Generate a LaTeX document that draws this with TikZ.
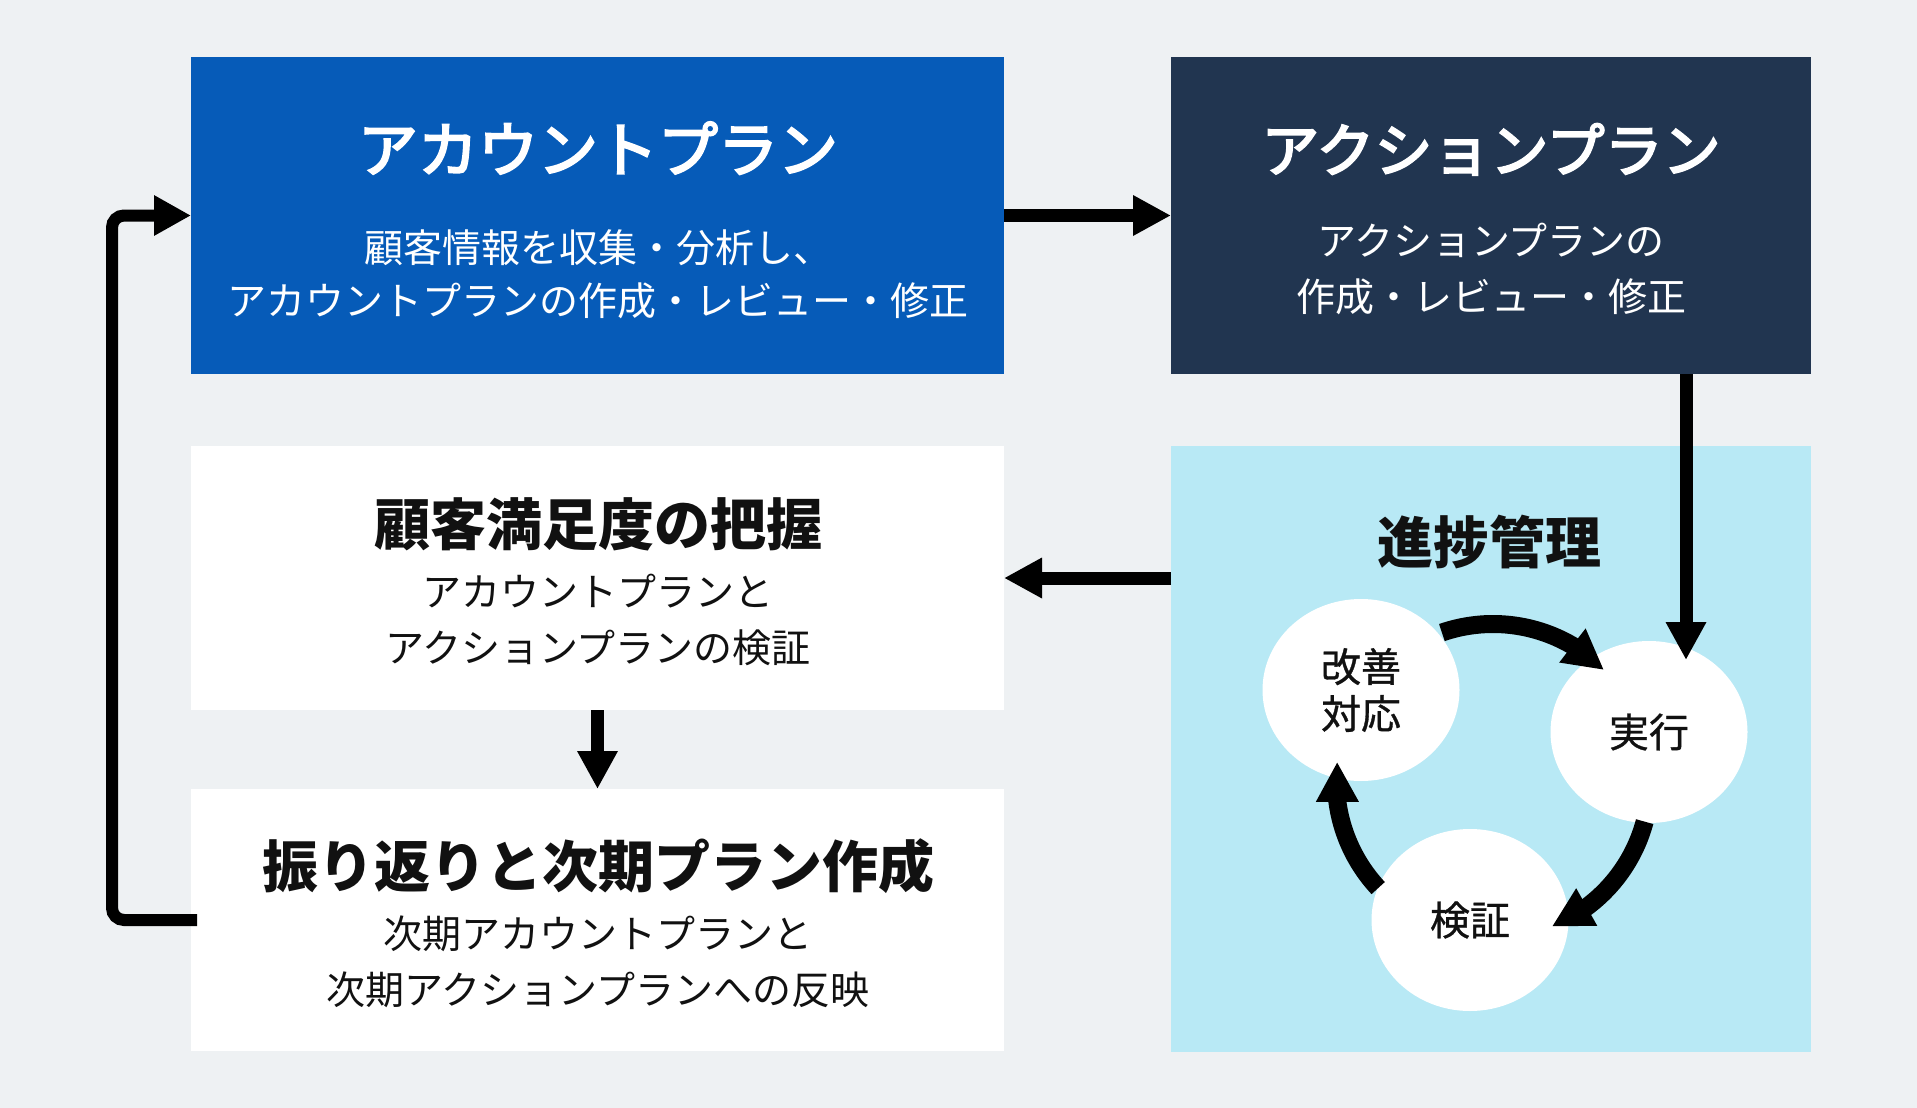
\documentclass[tikz,border=0pt]{standalone}
\usepackage{fontspec}
\newfontfamily\jp{Noto Sans CJK JP}
\newfontfamily\jpm[FakeBold=0.8]{Noto Sans CJK JP}
\newfontfamily\jph[FakeBold=3.5]{Noto Sans CJK JP}
\usetikzlibrary{arrows.meta,shapes.geometric,bending,calc}
\definecolor{bgc}{RGB}{238,241,243}
\definecolor{acctblue}{RGB}{6,91,184}
\definecolor{navy}{RGB}{33,53,80}
\definecolor{cyanbg}{RGB}{184,233,245}
\definecolor{ink}{RGB}{17,17,17}
\tikzset{
  panel/.style={draw=none,anchor=north west,inner sep=0pt,outer sep=0pt},
  bigttl/.style={font={\jph\fontsize{60}{66}\selectfont},inner sep=0pt,text height=50.4pt,text depth=4.8pt},
  ttl/.style={font={\jp\bfseries\fontsize{56}{62}\selectfont},inner sep=0pt,text height=47pt,text depth=4.5pt,text=ink},
  body/.style={font={\jp\fontsize{39}{47}\selectfont},inner sep=0pt,text height=32.8pt,text depth=3.1pt},
  bubble/.style={ellipse,fill=white,draw=none,minimum width=197pt,minimum height=182pt,inner sep=0pt,align=center,text=ink,font={\jpm\fontsize{40}{47}\selectfont}},
  flow/.style={line width=13pt,-{Triangle[length=38pt,width=38pt]}},
  loopback/.style={line width=12pt,rounded corners=12pt,-{Triangle[length=37pt,width=38pt]}},
  cyc/.style={line width=18pt,-{Triangle[length=40pt,width=40pt,flex]}}
}
\begin{document}
\begin{tikzpicture}[x=1pt,y=-1pt]
\fill[bgc] (0,0) rectangle (1917,1108);
\useasboundingbox (0,0) rectangle (1917,1108);
% panels
\node[panel,fill=acctblue,minimum width=813pt,minimum height=317pt] (acct) at (191,57) {};
\node[panel,fill=navy,minimum width=640pt,minimum height=317pt] (act) at (1171,57) {};
\node[panel,fill=white,minimum width=813pt,minimum height=264pt] (sat) at (191,446) {};
\node[panel,fill=white,minimum width=813pt,minimum height=262pt] (rev) at (191,789) {};
\node[panel,fill=cyanbg,minimum width=640pt,minimum height=606pt] (prog) at (1171,446) {};
% texts
\node[bigttl,text=white] (acctT) at (598,149) {アカウントプラン};
\node[body,text=white] (acctA) at (598,248) {顧客情報を収集・分析し、};
\node[body,text=white] (acctB) at (598,301) {アカウントプランの作成・レビュー・修正};
\node[bigttl,text=white,font={\jph\fontsize{58}{64}\selectfont}] (actT) at (1491,149) {アクションプラン};
\node[body,text=white] (actA) at (1491,241) {アクションプランの};
\node[body,text=white] (actB) at (1491,297) {作成・レビュー・修正};
\node[ttl] (satT) at (598,524) {顧客満足度の把握};
\node[body,text=ink] (satA) at (598,592) {アカウントプランと};
\node[body,text=ink] (satB) at (598,648) {アクションプランの検証};
\node[ttl] (revT) at (598,866) {振り返りと次期プラン作成};
\node[body,text=ink] (revA) at (598,934) {次期アカウントプランと};
\node[body,text=ink] (revB) at (598,990) {次期アクションプランへの反映};
\node[ttl] (progT) at (1489,542) {進捗管理};
% cycle
\node[bubble] (kaizen) at (1361,690) {改善\\対応};
\node[bubble] (jikko) at (1649,732) {実行};
\node[bubble] (kensho) at (1470,920) {検証};
\coordinate (cc) at (1493,781);
\draw[cyc] ($(cc)+(-109:157)$) arc[start angle=-109,end angle=-45,radius=157];
\draw[cyc] ($(cc)+(15:157)$) arc[start angle=15,end angle=68,radius=157];
\draw[cyc] ($(cc)+(137:157)$) arc[start angle=137,end angle=187,radius=157];
% flows
\coordinate (jtop) at (1686,660);
\draw[flow] (acct.east) -- (act.west);
\draw[flow] (act.south -| jtop) -- (jtop);
\draw[flow] (prog.west |- sat.east) -- (sat.east);
\draw[flow] (sat.south) -- (rev.north);
\draw[loopback] ([xshift=6pt]rev.west) -- ++(-85,0) |- (acct.west);
\end{tikzpicture}
\end{document}
